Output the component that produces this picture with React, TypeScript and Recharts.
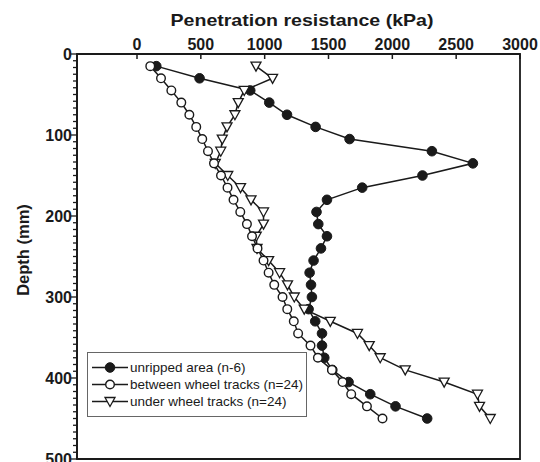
import React from "react"
import { ScatterChart, Scatter, XAxis, YAxis, Legend, ReferenceArea } from "recharts"

// depth below surface (mm) for each reading
const depths = [15, 30, 45, 60, 75, 90, 105, 120, 135, 150, 165, 180, 195, 210, 225, 240, 255, 270, 285, 300, 315, 330, 345, 360, 375, 390, 405, 420, 435, 450]

// penetration resistance (kPa)
const unripped = [151, 490, 887, 1036, 1175, 1399, 1665, 2310, 2631, 2236, 1764, 1488, 1406, 1420, 1488, 1441, 1383, 1352, 1363, 1370, 1344, 1396, 1449, 1449, 1467, 1530, 1657, 1827, 2025, 2273]
const betweenTracks = [104, 188, 269, 347, 410, 464, 511, 556, 603, 658, 709, 756, 809, 861, 901, 944, 991, 1031, 1075, 1140, 1177, 1228, 1262, 1359, 1417, 1527, 1610, 1678, 1801, 1923]
const underTracks = [932, 1062, 840, 793, 767, 705, 668, 656, 613, 711, 811, 893, 991, 991, 934, 940, 1031, 1117, 1179, 1232, 1310, 1514, 1727, 1819, 1905, 2101, 2406, 2667, 2683, 2767]

const seriesNames = ["unripped area (n-6)", "between wheel tracks (n=24)", "under wheel tracks (n=24)"]
const resistanceTicks = [0, 500, 1000, 1500, 2000, 2500, 3000]
const depthTicks = [0, 100, 200, 300, 400, 500]
const minorDepthTicks = Array.from({ length: 61 }, (_, i) => Math.round((i * 10000) / 12) / 100)

const toPoints = (vals: number[]) => depths.map((d, i) => ({ kpa: vals[i], depth: d }))

const INK = "#1a1a1a"
const FONT = '"Liberation Sans", Arial, Helvetica, sans-serif'

const FilledDot = (p: any) => <circle cx={p.cx} cy={p.cy} r={4.8} fill={INK} stroke={INK} strokeWidth={1} />
const OpenDot = (p: any) => <circle cx={p.cx} cy={p.cy} r={4.3} fill="#fff" stroke={INK} strokeWidth={1.4} />
const DownTriangle = (p: any) => (
  <polygon
    points={`${p.cx - 5},${p.cy - 4} ${p.cx + 5},${p.cy - 4} ${p.cx},${p.cy + 5}`}
    fill="#fff"
    stroke={INK}
    strokeWidth={1.3}
  />
)
const markers = [FilledDot, OpenDot, DownTriangle]

const TopTick = (props: any) => {
  const { x, y, payload } = props
  return (
    <g>
      <line x1={x} y1={y} x2={x} y2={y + 5} stroke={INK} strokeWidth={1.5} />
      <text x={x} y={y - 4} textAnchor="middle" fontSize={16} fontWeight="bold" fontFamily={FONT} fill={INK}>
        {payload.value}
      </text>
    </g>
  )
}

const LeftTick = (props: any) => {
  const { x, y, payload } = props
  const major = depthTicks.some((t) => Math.abs(t - payload.value) < 0.01)
  return (
    <g>
      <line x1={x - (major ? 6 : 4)} y1={y} x2={x} y2={y} stroke={INK} strokeWidth={1.3} />
      {major && (
        <text x={x - 5} y={y} dy="0.36em" textAnchor="end" fontSize={16} fontWeight="bold" fontFamily={FONT} fill={INK}>
          {payload.value}
        </text>
      )}
    </g>
  )
}

const LegendBox = () => (
  <div
    style={{
      border: "1px solid #666",
      background: "#fff",
      padding: "6px 0 6px 0",
      fontFamily: FONT,
      fontSize: 13.5,
      color: INK,
      boxSizing: "border-box",
      width: 220,
      height: 65,
    }}
  >
    {seriesNames.map((name, i) => {
      const M = markers[i]
      return (
        <div key={name} style={{ display: "flex", alignItems: "center", height: 17, whiteSpace: "nowrap" }}>
          <svg width={42} height={17} style={{ flex: "none" }}>
            <line x1={4} y1={8.5} x2={40} y2={8.5} stroke={INK} strokeWidth={1.5} />
            <M cx={22} cy={8.5} />
          </svg>
          <span>{name}</span>
        </div>
      )
    })}
  </div>
)

export default function App() {
  return (
    <div style={{ position: "absolute", left: 0, top: 0, width: 540, height: 462, background: "#fff" }}>
      <ScatterChart width={540} height={462} margin={{ top: 24, right: 20, bottom: 3, left: 0 }}>
        <XAxis
          type="number"
          dataKey="kpa"
          orientation="top"
          domain={[-470, 3000]}
          allowDataOverflow
          ticks={resistanceTicks}
          interval={0}
          height={30}
          tickSize={0}
          tickMargin={0}
          tickLine={false}
          tick={<TopTick />}
          axisLine={{ stroke: INK, strokeWidth: 1.8 }}
        />
        <YAxis
          type="number"
          dataKey="depth"
          reversed
          domain={[0, 500]}
          allowDataOverflow
          ticks={minorDepthTicks}
          interval={0}
          width={77}
          tickSize={0}
          tickMargin={0}
          tickLine={false}
          tick={<LeftTick />}
          axisLine={{ stroke: INK, strokeWidth: 1.8 }}
        />
        <ReferenceArea
          x1={-470}
          x2={3000}
          y1={0}
          y2={500}
          fill="none"
          fillOpacity={0}
          stroke={INK}
          strokeWidth={1.8}
          strokeOpacity={1}
          ifOverflow="visible"
        />
        <Legend
          layout="horizontal"
          verticalAlign="middle"
          align="center"
          content={() => <LegendBox />}
          wrapperStyle={{ left: 87, top: 352, width: 220, height: 65 }}
        />
        <Scatter
          name={seriesNames[0]}
          data={toPoints(unripped)}
          line={{ stroke: INK, strokeWidth: 1.5 }}
          shape={<FilledDot />}
          isAnimationActive={false}
        />
        <Scatter
          name={seriesNames[2]}
          data={toPoints(underTracks)}
          line={{ stroke: INK, strokeWidth: 1.5 }}
          shape={<DownTriangle />}
          isAnimationActive={false}
        />
        <Scatter
          name={seriesNames[1]}
          data={toPoints(betweenTracks)}
          line={{ stroke: INK, strokeWidth: 1.5 }}
          shape={<OpenDot />}
          isAnimationActive={false}
        />
      </ScatterChart>
      <div
        style={{
          position: "absolute",
          left: 102,
          top: 11,
          width: 400,
          textAlign: "center",
          fontFamily: FONT,
          fontSize: 17,
          fontWeight: "bold",
          lineHeight: "20px",
          color: INK,
          transform: "scaleX(1.15)",
          whiteSpace: "nowrap",
        }}
      >
        Penetration resistance (kPa)
      </div>
      <div
        style={{
          position: "absolute",
          left: -37,
          top: 240,
          width: 120,
          height: 20,
          textAlign: "center",
          fontFamily: FONT,
          fontSize: 16.5,
          fontWeight: "bold",
          lineHeight: "20px",
          color: INK,
          transform: "rotate(-90deg)",
          whiteSpace: "nowrap",
        }}
      >
        Depth (mm)
      </div>
    </div>
  )
}
